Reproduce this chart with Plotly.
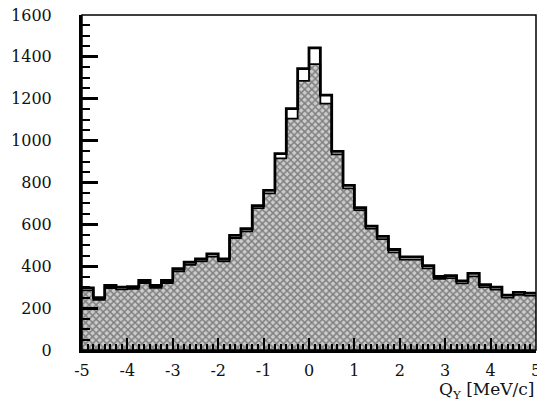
import numpy as np
import plotly.graph_objects as go

# Histogram: 40 bins of 0.25 MeV/c from -5 to 5
bin_lo = -5.0
bin_width = 0.25
total_counts = [297, 250, 308, 300, 303, 332, 308, 332, 388, 419,
                435, 459, 435, 547, 579, 690, 762, 938, 1153, 1344,
                1443, 1217, 949, 786, 680, 592, 543, 480, 445, 445,
                403, 351, 355, 330, 366, 312, 300, 262, 275, 272]
fill_counts = [285, 240, 296, 290, 292, 320, 297, 320, 376, 407,
               424, 446, 424, 535, 567, 678, 748, 915, 1105, 1285,
               1365, 1177, 934, 772, 668, 580, 530, 466, 432, 432,
               390, 340, 343, 318, 352, 300, 288, 250, 263, 260]
x_ticks = [-5, -4, -3, -2, -1, 0, 1, 2, 3, 4, 5]
x_ticklabels = ["-5", "-4", "-3", "-2", "-1", "0", "1", "2", "3", "4", "5"]
y_ticks = [0, 200, 400, 600, 800, 1000, 1200, 1400, 1600]

n = len(total_counts)
edges = bin_lo + bin_width * np.arange(n + 1)
centers = edges[:-1] + bin_width / 2

FONT = "DejaVu Serif"

fig = go.Figure()
fig.add_trace(go.Bar(
    x=centers, y=fill_counts, width=bin_width,
    marker=dict(color="#a8a8a8", line=dict(width=0),
                pattern=dict(shape="x", size=5, solidity=0.5,
                             fgcolor="#333333", bgcolor="#cccccc")),
    showlegend=False, hoverinfo="skip"))
fig.add_trace(go.Scatter(
    x=edges, y=list(fill_counts) + [fill_counts[-1]], mode="lines",
    line=dict(shape="hv", color="black", width=1.8),
    showlegend=False, hoverinfo="skip"))
fig.add_trace(go.Scatter(
    x=edges, y=list(total_counts) + [total_counts[-1]], mode="lines",
    line=dict(shape="hv", color="black", width=2.8),
    showlegend=False, hoverinfo="skip"))

fig.update_layout(
    width=537, height=405,
    margin=dict(l=82, r=1, t=15, b=55),
    paper_bgcolor="white", plot_bgcolor="white",
    bargap=0,
    font=dict(family=FONT, size=16, color="#111"),
    xaxis=dict(range=[-5, 5], tickvals=x_ticks, ticktext=x_ticklabels,
               automargin=False, ticklabeloverflow="allow",
               ticks="inside", ticklen=12, tickwidth=2.2, tickcolor="black",
               showline=True, linewidth=3, linecolor="black", showgrid=False,
               zeroline=False, ticklabelstandoff=4,
               minor=dict(dtick=0.125, tick0=0, ticks="inside", ticklen=6,
                          tickwidth=2, tickcolor="black", showgrid=False)),
    yaxis=dict(range=[0, 1600], tickvals=y_ticks,
               automargin=False, ticklabeloverflow="allow",
               ticks="inside", ticklen=16, tickwidth=2.5, tickcolor="black",
               showline=True, linewidth=3, linecolor="black", showgrid=False,
               zeroline=False, ticklabelstandoff=24,
               minor=dict(dtick=50, tick0=0, ticks="inside", ticklen=8,
                          tickwidth=2.2, tickcolor="black", showgrid=False)),
    shapes=[dict(type="rect", xref="paper", yref="paper", x0=0, y0=0, x1=1, y1=1,
                 line=dict(color="black", width=1.5), layer="above")],
    annotations=[dict(text="Q<sub>Y</sub> [MeV/c]", xref="paper", yref="paper",
                      x=1.0, y=-0.12, xanchor="right", yanchor="middle",
                      showarrow=False, font=dict(family=FONT, size=17, color="#111"))],
)

fig.write_html("out.html", config={"displayModeBar": False},
               post_script="document.body.style.margin='0';document.body.style.overflow='hidden';")
